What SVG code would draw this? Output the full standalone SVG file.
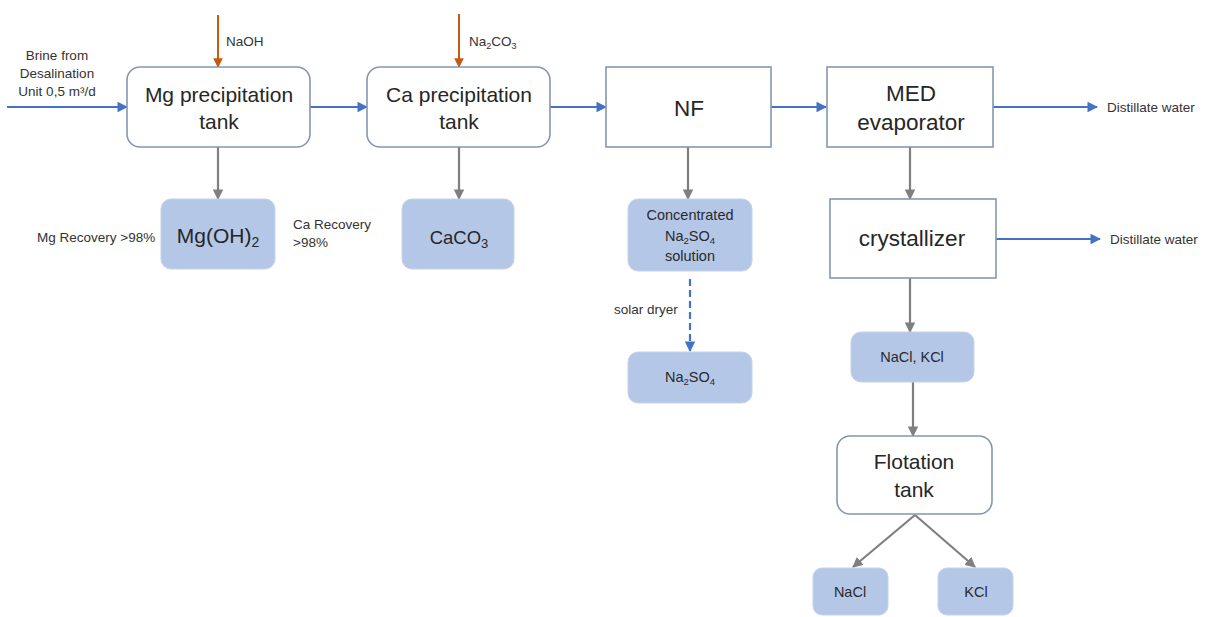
<svg xmlns="http://www.w3.org/2000/svg" width="1206" height="617" viewBox="0 0 1206 617">
  <style>
    .unit { fill: #ffffff; stroke: #8497b0; stroke-width: 1.6; }
    .prod { fill: #b4c7e7; stroke: #c5d3ea; stroke-width: 1; }
    .t { font-family: "Liberation Sans", Arial, sans-serif; fill: #262626; text-anchor: middle; }
    .big { font-size: 21px; }
    .wide { font-size: 22.5px; }
    .lbl { font-size: 13.5px; fill: #333333; }
    .lbl-l { font-size: 13.5px; fill: #333333; text-anchor: start; }
    .pl { font-size: 14.5px; fill: #2a2a2a; }
    .flow { stroke: #4472c4; stroke-width: 2.2; fill: none; marker-end: url(#ab); }
    .dose { stroke: #c55a11; stroke-width: 2; fill: none; marker-end: url(#ao); }
    .out { stroke: #7f7f7f; stroke-width: 2.2; fill: none; marker-end: url(#ag); }
    .dry { stroke: #4472c4; stroke-width: 2.2; fill: none; stroke-dasharray: 7 4; marker-end: url(#ab); }
  </style>
  <defs>
    <marker id="ab" viewBox="0 0 10 10" refX="9" refY="5" markerWidth="4.8" markerHeight="4.8" orient="auto">
      <path d="M0,0 L10,5 L0,10 Z" fill="#4472c4"/>
    </marker>
    <marker id="ao" viewBox="0 0 10 10" refX="9" refY="5" markerWidth="4.8" markerHeight="4.8" orient="auto">
      <path d="M0,0 L10,5 L0,10 Z" fill="#c55a11"/>
    </marker>
    <marker id="ag" viewBox="0 0 10 10" refX="9" refY="5" markerWidth="4.8" markerHeight="4.8" orient="auto">
      <path d="M0,0 L10,5 L0,10 Z" fill="#7f7f7f"/>
    </marker>
  </defs>
  <rect width="1206" height="617" fill="#ffffff"/>

  <!-- connectors -->
  <g id="connectors">
    <line class="flow" x1="7" y1="107" x2="127" y2="107"/>
    <line class="dose" x1="218" y1="15" x2="218" y2="67"/>
    <line class="dose" x1="459" y1="14" x2="459" y2="67"/>
    <line class="flow" x1="310" y1="107" x2="367" y2="107"/>
    <line class="flow" x1="550" y1="107" x2="606" y2="107"/>
    <line class="flow" x1="771" y1="107" x2="826" y2="107"/>
    <line class="flow" x1="993" y1="107" x2="1097" y2="107"/>
    <line class="flow" x1="996" y1="239" x2="1100" y2="239"/>
    <line class="out" x1="218" y1="147" x2="218" y2="199"/>
    <line class="out" x1="459" y1="147" x2="459" y2="199"/>
    <line class="out" x1="688" y1="147" x2="688" y2="199"/>
    <line class="out" x1="910" y1="147" x2="910" y2="199"/>
    <line class="out" x1="910" y1="278" x2="910" y2="332"/>
    <line class="out" x1="913" y1="382" x2="913" y2="436"/>
    <line class="out" x1="915" y1="515" x2="853" y2="567"/>
    <line class="out" x1="915" y1="515" x2="975" y2="567"/>
    <line class="dry" x1="690" y1="279" x2="690" y2="351"/>
  </g>

  <!-- free labels -->
  <g id="labels">
    <text class="t lbl" x="57" y="60">Brine from</text>
    <text class="t lbl" x="57" y="78">Desalination</text>
    <text class="t lbl" x="57" y="96">Unit 0,5 m³/d</text>
    <text class="t lbl-l" x="226" y="46">NaOH</text>
    <text class="t lbl-l" x="469" y="46">Na<tspan font-size="9" dy="3">2</tspan><tspan dy="-3">CO</tspan><tspan font-size="9" dy="3">3</tspan></text>
    <text class="t lbl-l" x="37" y="242">Mg Recovery &gt;98%</text>
    <text class="t lbl-l" x="293" y="229">Ca Recovery</text>
    <text class="t lbl-l" x="293" y="247">&gt;98%</text>
    <text class="t lbl-l" x="614" y="314">solar dryer</text>
    <text class="t lbl-l" x="1107" y="112">Distillate water</text>
    <text class="t lbl-l" x="1110" y="244">Distillate water</text>
  </g>

  <g id="mg-tank">
    <rect class="unit" x="127" y="67" width="183" height="80" rx="13"/>
    <text class="t big" x="219" y="102">Mg precipitation</text>
    <text class="t big" x="219" y="129">tank</text>
  </g>
  <g id="ca-tank">
    <rect class="unit" x="367" y="67" width="183" height="80" rx="13"/>
    <text class="t big" x="459" y="102">Ca precipitation</text>
    <text class="t big" x="459" y="129">tank</text>
  </g>
  <g id="nf">
    <rect class="unit" x="606" y="67" width="165" height="80"/>
    <text class="t wide" x="689" y="116">NF</text>
  </g>
  <g id="med">
    <rect class="unit" x="827" y="67" width="166" height="80"/>
    <text class="t wide" x="911" y="101">MED</text>
    <text class="t wide" x="911" y="130">evaporator</text>
  </g>
  <g id="crystallizer">
    <rect class="unit" x="830" y="199" width="166" height="79"/>
    <text class="t wide" x="912" y="246">crystallizer</text>
  </g>
  <g id="mgoh2">
    <rect class="prod" x="161" y="199" width="114" height="70" rx="10"/>
    <text class="t" x="218" y="243" font-size="21">Mg(OH)<tspan font-size="14" dy="4">2</tspan></text>
  </g>
  <g id="caco3">
    <rect class="prod" x="402" y="199" width="112" height="70" rx="10"/>
    <text class="t" x="459" y="244" font-size="18.5">CaCO<tspan font-size="13" dy="4">3</tspan></text>
  </g>
  <g id="na2so4-solution">
    <rect class="prod" x="628" y="199" width="124" height="72" rx="10"/>
    <text class="t pl" x="690" y="220">Concentrated</text>
    <text class="t pl" x="690" y="241">Na<tspan font-size="9.5" dy="3">2</tspan><tspan dy="-3">SO</tspan><tspan font-size="9.5" dy="3">4</tspan></text>
    <text class="t pl" x="690" y="261">solution</text>
  </g>
  <g id="na2so4">
    <rect class="prod" x="628" y="352" width="124" height="51" rx="10"/>
    <text class="t pl" x="690" y="382">Na<tspan font-size="9.5" dy="3">2</tspan><tspan dy="-3">SO</tspan><tspan font-size="9.5" dy="3">4</tspan></text>
  </g>
  <g id="nacl-kcl">
    <rect class="prod" x="851" y="332" width="123" height="50" rx="10"/>
    <text class="t pl" x="912" y="362">NaCl, KCl</text>
  </g>
  <g id="flotation">
    <rect class="unit" x="837" y="436" width="155" height="78" rx="13"/>
    <text class="t big" x="914" y="469">Flotation</text>
    <text class="t big" x="914" y="497">tank</text>
  </g>
  <g id="nacl">
    <rect class="prod" x="813" y="568" width="75" height="47" rx="9"/>
    <text class="t pl" x="850" y="597">NaCl</text>
  </g>
  <g id="kcl">
    <rect class="prod" x="938" y="568" width="75" height="47" rx="9"/>
    <text class="t pl" x="976" y="597">KCl</text>
  </g>
</svg>
